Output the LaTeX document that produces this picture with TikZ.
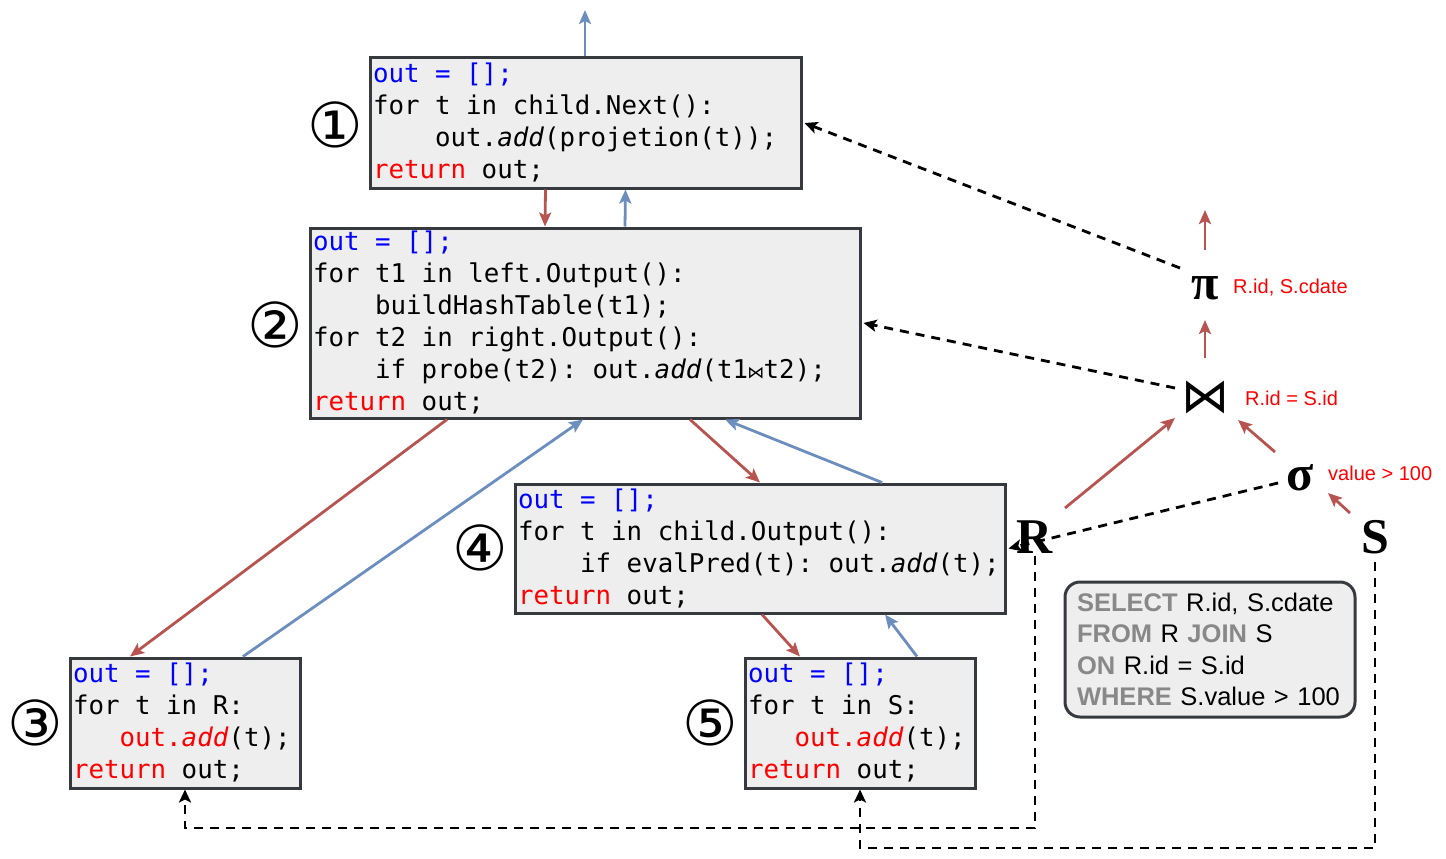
\documentclass[tikz,border=0pt]{standalone}
\usepackage{fontspec}
\setmainfont{Liberation Sans}
\setmonofont{DejaVu Sans Mono}
\newfontfamily\dejavu{DejaVu Sans}
\newfontfamily\timesb{Liberation Serif}
\usetikzlibrary{arrows.meta,calc}
\definecolor{arrred}{HTML}{B85450}
\definecolor{arrblue}{HTML}{6C8EBF}
\definecolor{boxfill}{HTML}{EEEEEE}
\definecolor{boxline}{HTML}{36393D}
\definecolor{kwblue}{HTML}{0000FF}
\definecolor{kwred}{HTML}{FF0000}
\definecolor{sqlkw}{HTML}{888888}
\newcommand\ts{\hspace*{\fontcharwd\font`0}}
\newcommand\ind[1]{\hspace*{#1\fontcharwd\font`0}}
\newcommand\bl[1]{\textcolor{kwblue}{#1}}
\newcommand\rd[1]{\textcolor{kwred}{#1}}
\newcommand\kw[1]{\textcolor{sqlkw}{\textbf{#1}}}
\newcommand\bowch{\makebox[\fontcharwd\font`0]{\dejavu\fontsize{17}{17}\selectfont ⋈}}
\begin{document}
\begin{tikzpicture}[x=1pt,y=-1pt,
  codebox/.style={draw=boxline, fill=boxfill, line width=3pt, inner xsep=3pt, inner ysep=0pt,
    align=left, font=\ttfamily\fontsize{25.8}{32}\selectfont},
  sqlbox/.style={draw=boxline, fill=boxfill, line width=3pt, rounded corners=15pt, inner xsep=12pt,
    inner ysep=0pt, align=left, font=\fontsize{25.5}{31.5}\selectfont},
  circnum/.style={inner sep=0pt, font=\dejavu\fontsize{62}{62}\selectfont},
  opsym/.style={inner sep=2pt, font=\timesb\bfseries\fontsize{50}{50}\selectfont},
  joinsym/.style={inner sep=2pt, font=\dejavu\fontsize{48}{48}\selectfont},
  redlab/.style={inner sep=0pt, anchor=west, text=kwred, font=\fontsize{20}{20}\selectfont},
  redarr/.style={draw=arrred, line width=2.8pt, -{Stealth[length=14pt,width=12pt,inset=3pt]}},
  bluearr/.style={draw=arrblue, line width=2.8pt, -{Stealth[length=14pt,width=12pt,inset=3pt]}},
  dasharr/.style={draw=black, line width=2.8pt, dash pattern=on 9pt off 7pt, -{Stealth[length=13pt,width=12pt,inset=3pt]}}
]
\useasboundingbox (0,0) rectangle (1446,859);

% code boxes
\node[codebox, text width=425pt, minimum height=130pt] (b1) at (585.5,123) {%
\bl{out\ts=\ts[];}\\
for\ts t\ts in\ts child.Next():\\
\ind{4}out.\textit{add}(projetion(t));\\
\rd{return}\ts out;};

\node[codebox, text width=544pt, minimum height=190pt] (b2) at (585,323) {%
\bl{out\ts=\ts[];}\\
for\ts t1\ts in\ts left.Output():\\
\ind{4}buildHashTable(t1);\\
for\ts t2\ts in\ts right.Output():\\
\ind{4}if\ts probe(t2):\ts out.\textit{add}(t1\bowch t2);\\
\rd{return}\ts out;};

\node[codebox, text width=224pt, minimum height=130pt] (b3) at (185,723) {%
\bl{out\ts=\ts[];}\\
for\ts t\ts in\ts R:\\
\ind{3}\rd{out.\textit{add}}(t);\\
\rd{return}\ts out;};

\node[codebox, text width=484pt, minimum height=129pt] (b4) at (760,548.5) {%
\bl{out\ts=\ts[];}\\
for\ts t\ts in\ts child.Output():\\
\ind{4}if\ts evalPred(t):\ts out.\textit{add}(t);\\
\rd{return}\ts out;};

\node[codebox, text width=224pt, minimum height=130pt] (b5) at (860,723) {%
\bl{out\ts=\ts[];}\\
for\ts t\ts in\ts S:\\
\ind{3}\rd{out.\textit{add}}(t);\\
\rd{return}\ts out;};

% circled numbers
\node[circnum] (c1) at (335,125) {①};
\node[circnum] (c2) at (275,325) {②};
\node[circnum] (c3) at (35,723) {③};
\node[circnum] (c4) at (480,548) {④};
\node[circnum] (c5) at (710,723) {⑤};

% SQL box
\node[sqlbox, text width=266pt, minimum height=135pt] (sql) at (1210,649.5) {%
\kw{SELECT} R.id, S.cdate\\
\kw{FROM} R \kw{JOIN} S\\
\kw{ON} R.id = S.id\\
\kw{WHERE} S.value > 100};

% operator tree
\node[opsym] (pi) at (1205,288) {π};
\node[joinsym] (join) at (1205,397) {⋈};
\node[opsym] (sigma) at (1300,478) {σ};
\node[opsym] (R) at (1035,537) {R};
\node[opsym] (S) at (1375,537) {S};
\node[redlab] (lpi) at (1233,288) {R.id, S.cdate};
\node[redlab] (ljoin) at (1245,398) {R.id = S.id};
\node[redlab] (lsigma) at (1328,473) {value > 100};
\coordinate (pitop) at (1205,210);
\coordinate (top) at (585,10);
\coordinate (rc) at (1035,828);
\coordinate (sc) at (1375,848);

% tree arrows
\draw[redarr] ([yshift=38pt]pi.center) -- (pitop);
\draw[redarr] ([yshift=39pt]join.center) -- ([yshift=-32pt]pi.center);
\draw[redarr] ([xshift=30pt,yshift=29pt]R.center) -- ([xshift=-30pt,yshift=-21pt]join.center);
\draw[redarr] ([xshift=-25pt,yshift=26pt]sigma.center) -- ([xshift=33pt,yshift=-23pt]join.center);
\draw[redarr] ([xshift=-25pt,yshift=24pt]S.center) -- ([xshift=28pt,yshift=-15pt]sigma.center);

% plan arrows
\draw[bluearr] ([xshift=-0.5pt]b1.north) -- (top);
\draw[redarr] ([xshift=-40pt]b1.south) -- ([xshift=-40pt]b2.north);
\draw[bluearr] ([xshift=40pt]b2.north) -- ([xshift=40pt]b1.south);
\draw[redarr] ([xshift=-138pt]b2.south) -- ([xshift=-55pt]b3.north);
\draw[bluearr] ([xshift=58pt]b3.north) -- ([xshift=-2pt]b2.south);
\draw[redarr] ([xshift=105pt]b2.south) -- (b4.north);
\draw[bluearr] ([xshift=122pt]b4.north) -- ([xshift=140pt]b2.south);
\draw[redarr] ([xshift=2pt]b4.south) -- ([xshift=-60pt]b5.north);
\draw[bluearr] ([xshift=57pt]b5.north) -- ([xshift=125pt]b4.south);

% dashed mapping arrows
\draw[dasharr] ([xshift=-25pt,yshift=20pt]pi.center) -- ([xshift=2pt]b1.east);
\draw[dasharr] ([xshift=-30pt,yshift=9pt]join.center) -- ([xshift=2pt]b2.east);
\draw[dasharr] ([xshift=-22pt,yshift=-5pt]sigma.center) -- ([xshift=2pt]b4.east);
\draw[dasharr] (R.south) -- (rc) -| (b3.south);
\draw[dasharr] ([yshift=-6pt]S.south) -- (sc) -| (b5.south);
\end{tikzpicture}
\end{document}
